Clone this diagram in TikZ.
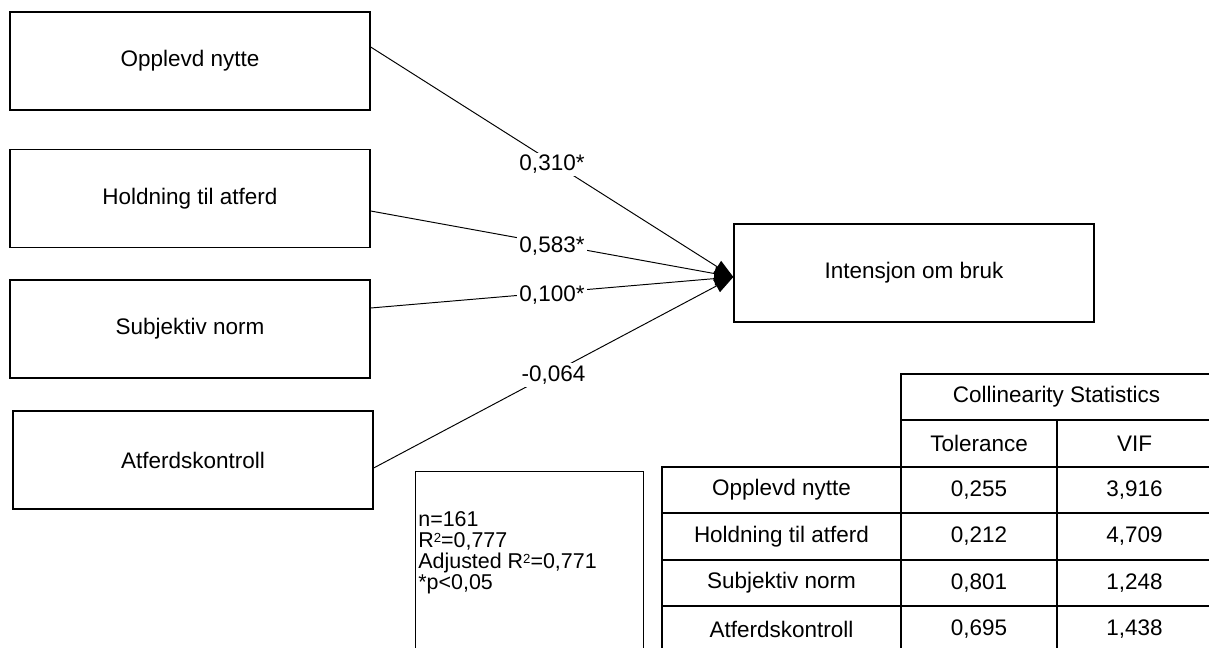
\documentclass[tikz,border=0pt]{standalone}
\usepackage{fontspec}
\setmainfont{Liberation Sans}
\usepackage{tikz}
\usetikzlibrary{arrows.meta}
\newcommand{\sqtwo}{\raisebox{3.2pt}{\fontsize{7.5}{8}\selectfont 2}}

\begin{document}
\begin{tikzpicture}[x=0.02cm,y=-0.02cm,every node/.style={font=\fontsize{12.8}{15}\selectfont},
  varbox/.style={draw,line width=0.8pt,minimum width=7.2cm,minimum height=1.96cm,inner sep=0pt},
  effect/.style={line width=0.55pt,-{Triangle[length=0.38cm,width=0.28cm]}},
  coef/.style={fill=white,inner sep=1.5pt,yshift=-0.05cm},
  cell/.style={draw,line width=1.1pt,inner sep=0pt,minimum height=0.93cm}]
\useasboundingbox (0,0) rectangle (1209,648);
\clip (0,0) rectangle (1209,648);
\node[varbox] (nytte) at (190,61) {Opplevd nytte};
\node[varbox] (holdning) at (190,198.5) {Holdning til atferd};
\node[varbox] (norm) at (190,329) {Subjektiv norm};
\node[varbox] (kontroll) at (193,460) {Atferdskontroll};
\node[varbox] (intensjon) at (914,273) {Intensjon om bruk};
\draw[effect] ([yshift=0.28cm]nytte.east) -- node[coef] (k1) {0,310*} ([yshift=-0.08cm]intensjon.west);
\draw[effect] ([yshift=-0.25cm]holdning.east) -- node[coef] (k2) {0,583*} ([yshift=-0.08cm]intensjon.west);
\draw[effect] ([yshift=0.42cm]norm.east) -- node[coef] (k3) {0,100*} ([yshift=-0.08cm]intensjon.west);
\draw[effect] ([yshift=-0.16cm]kontroll.east) -- node[coef] (k4) {-0,064} ([yshift=-0.08cm]intensjon.west);
\node[draw,line width=0.8pt,anchor=north west,minimum width=4.56cm,minimum height=4cm] (notes) at (415,471) {};
\node[anchor=west,align=left,inner sep=0pt,font=\fontsize{12.2}{11.95}\selectfont] (stats) at (418,553)
  {n=161\\R\sqtwo=0,777\\Adjusted R\sqtwo=0,771\\*p<0,05};
\node[cell,minimum width=6.22cm] (head) at (1056.5,397) {Collinearity Statistics};
\node[cell,minimum width=3.12cm,minimum height=0.94cm] (tol) at (979,443.5) {Tolerance};
\node[cell,minimum width=3.1cm,minimum height=0.94cm] (vif) at (1134.5,443.5) {VIF};
\node[cell,minimum width=4.78cm] (r1) at (781.5,490) {Opplevd nytte};
\node[cell,minimum width=3.12cm] (t1) at (979,490) {0,255};
\node[cell,minimum width=3.1cm] (v1) at (1134.5,490) {3,916};
\node[cell,minimum width=4.78cm] (r2) at (781.5,536.5) {Holdning til atferd};
\node[cell,minimum width=3.12cm] (t2) at (979,536.5) {0,212};
\node[cell,minimum width=3.1cm] (v2) at (1134.5,536.5) {4,709};
\node[cell,minimum width=4.78cm] (r3) at (781.5,583) {Subjektiv norm};
\node[cell,minimum width=3.12cm] (t3) at (979,583) {0,801};
\node[cell,minimum width=3.1cm] (v3) at (1134.5,583) {1,248};
\node[cell,minimum width=4.78cm] (r4) at (781.5,629.5) {Atferdskontroll};
\node[cell,minimum width=3.12cm] (t4) at (979,629.5) {0,695};
\node[cell,minimum width=3.1cm] (v4) at (1134.5,629.5) {1,438};
\end{tikzpicture}
\end{document}
